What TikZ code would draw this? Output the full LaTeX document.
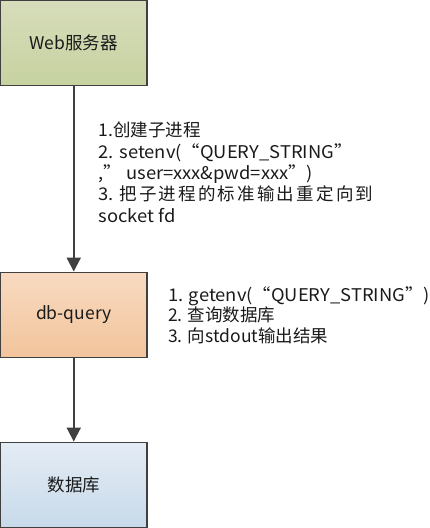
\documentclass[tikz,border=0pt]{standalone}
\usepackage{fontspec}
\setmainfont{Noto Sans CJK SC}
\usetikzlibrary{arrows.meta}
\definecolor{edge}{HTML}{404040}
\definecolor{txt}{HTML}{1A1A1A}
\newcommand\widertext[1]{{\addfontfeature{FakeStretch=1.05}#1}}
\newcommand\spacedtext[1]{{\addfontfeature{LetterSpace=12.5}#1}}
\tikzset{
  box/.style={draw=edge, line width=1.5pt, minimum width=146.5pt, minimum height=85pt,
    inner sep=0pt, text=txt, font=\fontsize{17.5}{20}\selectfont},
  flow/.style={draw=edge, line width=2pt, -{Triangle[length=14pt,width=14pt]}},
  note/.style={align=left, inner sep=0pt, text=txt, anchor=base west}
}
\begin{document}
\begin{tikzpicture}[x=1pt,y=1pt]
\useasboundingbox (0,0) rectangle (429,-528);
\node[box, top color={rgb,255:red,215;green,221;blue,187}, bottom color={rgb,255:red,199;green,210;blue,160}] (web) at (73.75,-42.75) {Web服务器};
\node[box, top color={rgb,255:red,248;green,218;blue,192}, bottom color={rgb,255:red,242;green,196;blue,156}] (dbq) at (73.75,-314.8) {db-query};
\node[box, top color={rgb,255:red,228;green,236;blue,245}, bottom color={rgb,255:red,200;green,218;blue,234}] (db) at (73.75,-484.8) {数据库};
\draw[flow] (web) -- (dbq);
\draw[flow] (dbq) -- (db);
\node[note, font=\fontsize{17.5}{21.3}\selectfont] (n1) at (98.5,-222) {1.创建子进程\\\widertext{2. setenv(“QUERY\_STRING”}\\\widertext{,” user=xxx\&pwd=xxx”)}\\\widertext{3. }\spacedtext{把子进程的标准输出重定向到}\\\widertext{socket fd}};
\node[note, font=\fontsize{17.5}{20.5}\selectfont] (n2) at (168,-342) {\widertext{1. getenv(“QUERY\_STRING”)}\\2. 查询数据库\\3. 向stdout输出结果};
\end{tikzpicture}
\end{document}
